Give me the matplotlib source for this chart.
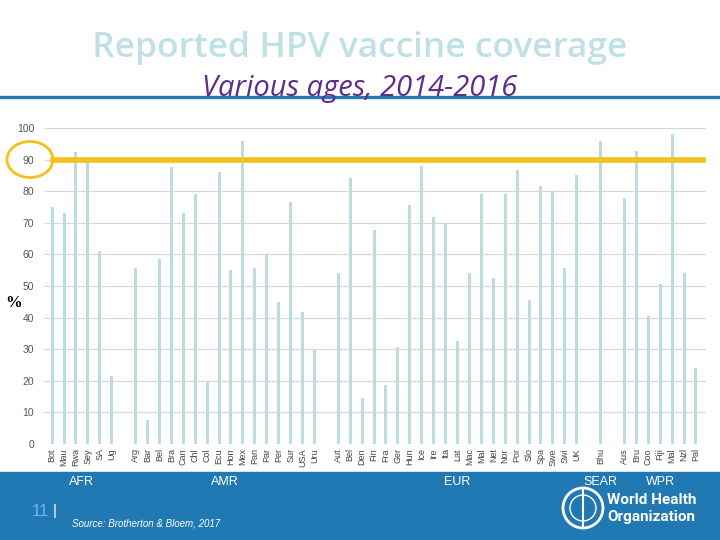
import numpy as np
import matplotlib.pyplot as plt
from matplotlib.patches import Ellipse, Rectangle
from matplotlib.lines import Line2D
import matplotlib.transforms as mtransforms

# data
afr = ['Bot', 'Mau', 'Rwa', 'Sey', 'SA', 'Ug']
afr_v = [75, 73, 92.5, 89.5, 61, 21.5]
amr = ['Arg', 'Bar', 'Bel', 'Bra', 'Can', 'Chl', 'Col', 'Ecu', 'Hon', 'Mex',
       'Pan', 'Par', 'Per', 'Sur', 'USA', 'Uru']
amr_v = [55.6, 7.6, 58.6, 87.6, 73, 79, 19.7, 86, 55, 96,
         55.6, 60, 44.8, 76.6, 41.7, 30]
eur = ['Aut', 'Bel', 'Den', 'Fin', 'Fra', 'Ger', 'Hun', 'Ice', 'Ire', 'Ita',
       'Lat', 'Mac', 'Mal', 'Net', 'Nor', 'Por', 'Slo', 'Spa', 'Swe', 'Swi', 'UK']
eur_v = [54, 84.2, 14.7, 67.8, 18.7, 30.6, 75.7, 87.9, 71.8, 69.7,
         32.6, 54, 79, 52.5, 79, 86.8, 45.6, 81.7, 80, 55.6, 85]
sear = ['Bhu']
sear_v = [96]
wpr = ['Aus', 'Bru', 'Coo', 'Fiji', 'Mal', 'Nzl', 'Pal']
wpr_v = [78, 92.8, 40.5, 50.7, 98, 54, 24]

regions = ['AFR', 'AMR', 'EUR', 'SEAR', 'WPR']
groups = [(afr, afr_v), (amr, amr_v), (eur, eur_v), (sear, sear_v), (wpr, wpr_v)]
target = 90

# positions with one empty slot between regions
xs, labels, vals, centers = [], [], [], []
pos = 0
for names, v in groups:
    gx = list(range(pos, pos + len(names)))
    xs += gx
    labels += names
    vals += v
    centers.append(np.mean(gx))
    pos += len(names) + 1

W, H = 720, 540


def fx(x):
    return x / W


def fy(y):
    return 1 - y / H


fig = plt.figure(figsize=(7.2, 5.4), dpi=100)
fig.patch.set_facecolor('white')

# header
fig.text(0.5, fy(48), 'Reported HPV vaccine coverage', ha='center', va='center',
         fontsize=25.5, color='#BFE1E4', family='Open Sans', fontweight='semibold')
fig.add_artist(Line2D([0, 1], [fy(97), fy(97)], color='#2779B0', lw=2.4))
fig.text(0.5, fy(88.5), 'Various ages, 2014-2016', ha='center', va='center',
         fontsize=21, color='#5E2D8A', family='Open Sans', style='italic',
         fontweight='medium', zorder=5)

# bottom band
fig.add_artist(Rectangle((0, 0), 1, fy(472), color='#2179B4', zorder=0))

ax = fig.add_axes([fx(44), fy(444), fx(662), 316 / H])
ax.bar(xs, vals, width=0.25, color='#BCDDDF', zorder=2)
ax.set_xlim(-0.68, xs[-1] + 0.84)
ax.set_ylim(0, 100)
ax.set_yticks(np.arange(0, 101, 10))
ax.grid(axis='y', color='#D9D9D9', lw=0.9, zorder=0)
ax.set_axisbelow(True)
for s in ax.spines.values():
    s.set_visible(False)
ax.tick_params(axis='y', length=0, pad=7, labelsize=7.5, labelcolor='#555555')
ax.tick_params(axis='x', length=0, pad=3)
ax.set_xticks(xs)
ax.set_xticklabels(labels, rotation=90, fontsize=6.5, color='#444444', va='top')
for t in ax.get_yticklabels():
    t.set_family('Liberation Sans')
for t in ax.get_xticklabels():
    t.set_family('Liberation Sans')

# target line and circle around 90
ax.axhline(target, xmin=(fx(53) - fx(44)) / fx(662), xmax=1, color='#F4C01A', lw=4, zorder=3)
fig.add_artist(Ellipse((fx(30), fy(159.5)), fx(46), 36 / H, fill=False,
                       edgecolor='#F4C01A', lw=2))

fig.text(fx(14), fy(303), '%', ha='center', va='center', fontsize=12,
         fontweight='bold', family='Liberation Serif', color='black')

# region labels under the groups
trans = mtransforms.blended_transform_factory(ax.transData, fig.transFigure)
for r, c in zip(regions, centers):
    ax.text(c, fy(482), r, transform=trans, ha='center', va='center',
            fontsize=9, color='white', family='Liberation Sans')

fig.text(fx(49), fy(512), '11', ha='right', va='center', fontsize=12,
         color='#6BB7EA', family='Liberation Sans')
fig.text(fx(53), fy(511), '|', ha='left', va='center', fontsize=11,
         color='white', family='Liberation Sans')
fig.text(fx(72), fy(524), 'Source: Brotherton & Bloem, 2017', ha='left', va='center',
         fontsize=7, color='white', style='italic', family='Liberation Sans')

# WHO logo (simplified)
fig.add_artist(Ellipse((fx(583), fy(508)), fx(40), 40 / H, fill=False,
                       edgecolor='white', lw=2))
fig.add_artist(Ellipse((fx(583), fy(508)), fx(26), 26 / H, fill=False,
                       edgecolor='white', lw=1))
fig.add_artist(Line2D([fx(583), fx(583)], [fy(490), fy(526)], color='white', lw=1.5))
fig.text(fx(607), fy(500), 'World Health', ha='left', va='center', fontsize=11,
         color='white', fontweight='bold', family='Roboto')
fig.text(fx(607), fy(517), 'Organization', ha='left', va='center', fontsize=11,
         color='white', fontweight='bold', family='Roboto')

fig.savefig('out.png', dpi=100)
